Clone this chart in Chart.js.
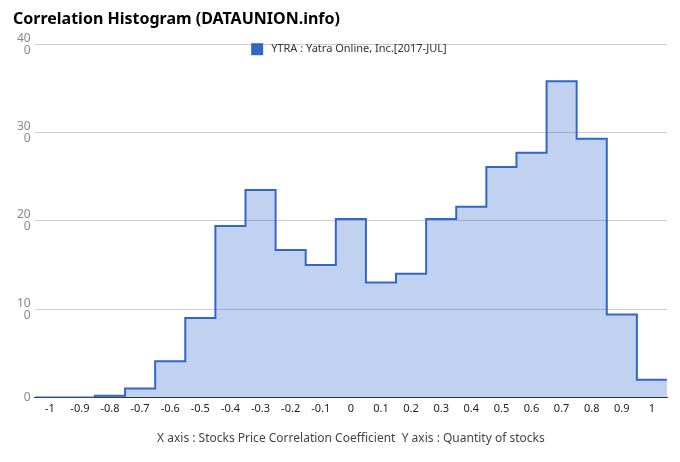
<!DOCTYPE html>
<html>
<head>
<meta charset="utf-8">
<script src="https://cdn.jsdelivr.net/npm/chart.js@4"></script>
<style>
  body { margin: 0; background: #fff; }
  #wrap { width: 680px; height: 462px; }
</style>
</head>
<body>
<div id="wrap"><canvas id="chart" width="680" height="462"></canvas></div>
<script>
// bin centres (correlation coefficient) and stock counts
const bins = [-1, -0.9, -0.8, -0.7, -0.6, -0.5, -0.4, -0.3, -0.2, -0.1, 0,
  0.1, 0.2, 0.3, 0.4, 0.5, 0.6, 0.7, 0.8, 0.9, 1];
const counts = [0, 0, 2, 10, 41, 90, 194, 235, 167, 150, 202,
  130, 140, 202, 216, 261, 277, 358, 293, 94, 20];
const xTicks = bins;
const yTicks = [0, 100, 200, 300, 400];
const halfBin = 0.05;
const seriesName = "YTRA : Yatra Online, Inc.[2017-JUL]";

// step line: each bin starts at its left edge, last point closes the right edge
const points = bins.map((b, i) => ({ x: b - halfBin, y: counts[i] }));
points.push({ x: bins[bins.length - 1] + halfBin, y: counts[counts.length - 1] });

// legend sits just inside the top of the plot, centred
const topLegend = {
  id: "topLegend",
  afterDraw(chart) {
    const { ctx, chartArea } = chart;
    ctx.save();
    ctx.font = "11px 'Noto Sans', sans-serif";
    const tw = ctx.measureText(seriesName).width;
    const total = 12 + 8 + tw;
    const x0 = (chartArea.left + chartArea.right) / 2 - total / 2 - 2;
    const cy = chartArea.top + 5;
    ctx.fillStyle = "#3366cc";
    ctx.fillRect(x0, cy - 6, 12, 12);
    ctx.fillStyle = "#333";
    ctx.textBaseline = "middle";
    ctx.fillText(seriesName, x0 + 20, cy);
    ctx.restore();
  },
};

const ctx = document.getElementById("chart").getContext("2d");
new Chart(ctx, {
  type: "line",
  data: {
    datasets: [
      {
        label: seriesName,
        data: points,
        borderColor: "#3366cc",
        backgroundColor: "rgba(51,102,204,0.3)",
        borderWidth: 2,
        fill: "origin",
        stepped: true,
        pointRadius: 0,
        tension: 0,
      },
    ],
  },
  plugins: [topLegend],
  options: {
    responsive: false,
    animation: false,
    layout: { padding: { left: 13, right: 13, top: 8, bottom: 16 } },
    plugins: {
      title: {
        display: true,
        text: "Correlation Histogram (DATAUNION.info)",
        align: "start",
        color: "#000",
        font: { family: "'Noto Sans', sans-serif", size: 16, weight: "bold" },
        padding: { top: 2, bottom: 15 },
      },
      legend: { display: false },
      tooltip: { enabled: false },
    },
    scales: {
      x: {
        type: "linear",
        min: bins[0] - halfBin,
        max: bins[bins.length - 1] + halfBin,
        afterBuildTicks: (scale) => {
          scale.ticks = xTicks.map((v) => ({ value: v }));
        },
        ticks: {
          autoSkip: false,
          maxRotation: 0,
          color: "#222",
          font: { family: "'Noto Sans', sans-serif", size: 11 },
          padding: 5,
          callback: (value) => String(Math.round(value * 10) / 10),
        },
        grid: { display: false, drawTicks: false },
        border: { display: true, color: "#333", width: 1 },
        title: {
          display: true,
          text: "X axis : Stocks Price Correlation Coefficient  Y axis : Quantity of stocks",
          color: "#444",
          font: { family: "'Noto Sans', sans-serif", size: 12 },
          padding: { top: 11, bottom: 0 },
        },
      },
      y: {
        min: 0,
        max: 400,
        afterBuildTicks: (scale) => {
          scale.ticks = yTicks.map((v) => ({ value: v }));
        },
        ticks: {
          color: "#888",
          font: { family: "'Noto Sans', sans-serif", size: 12, lineHeight: 1.0 },
          padding: 4,
          callback: (value) => {
            const s = String(value);
            return s.length > 2 ? [s.slice(0, 2), s.slice(2)] : s;
          },
        },
        grid: { color: "#cccccc", drawTicks: false },
        border: { display: false },
      },
    },
  },
});
</script>
</body>
</html>
